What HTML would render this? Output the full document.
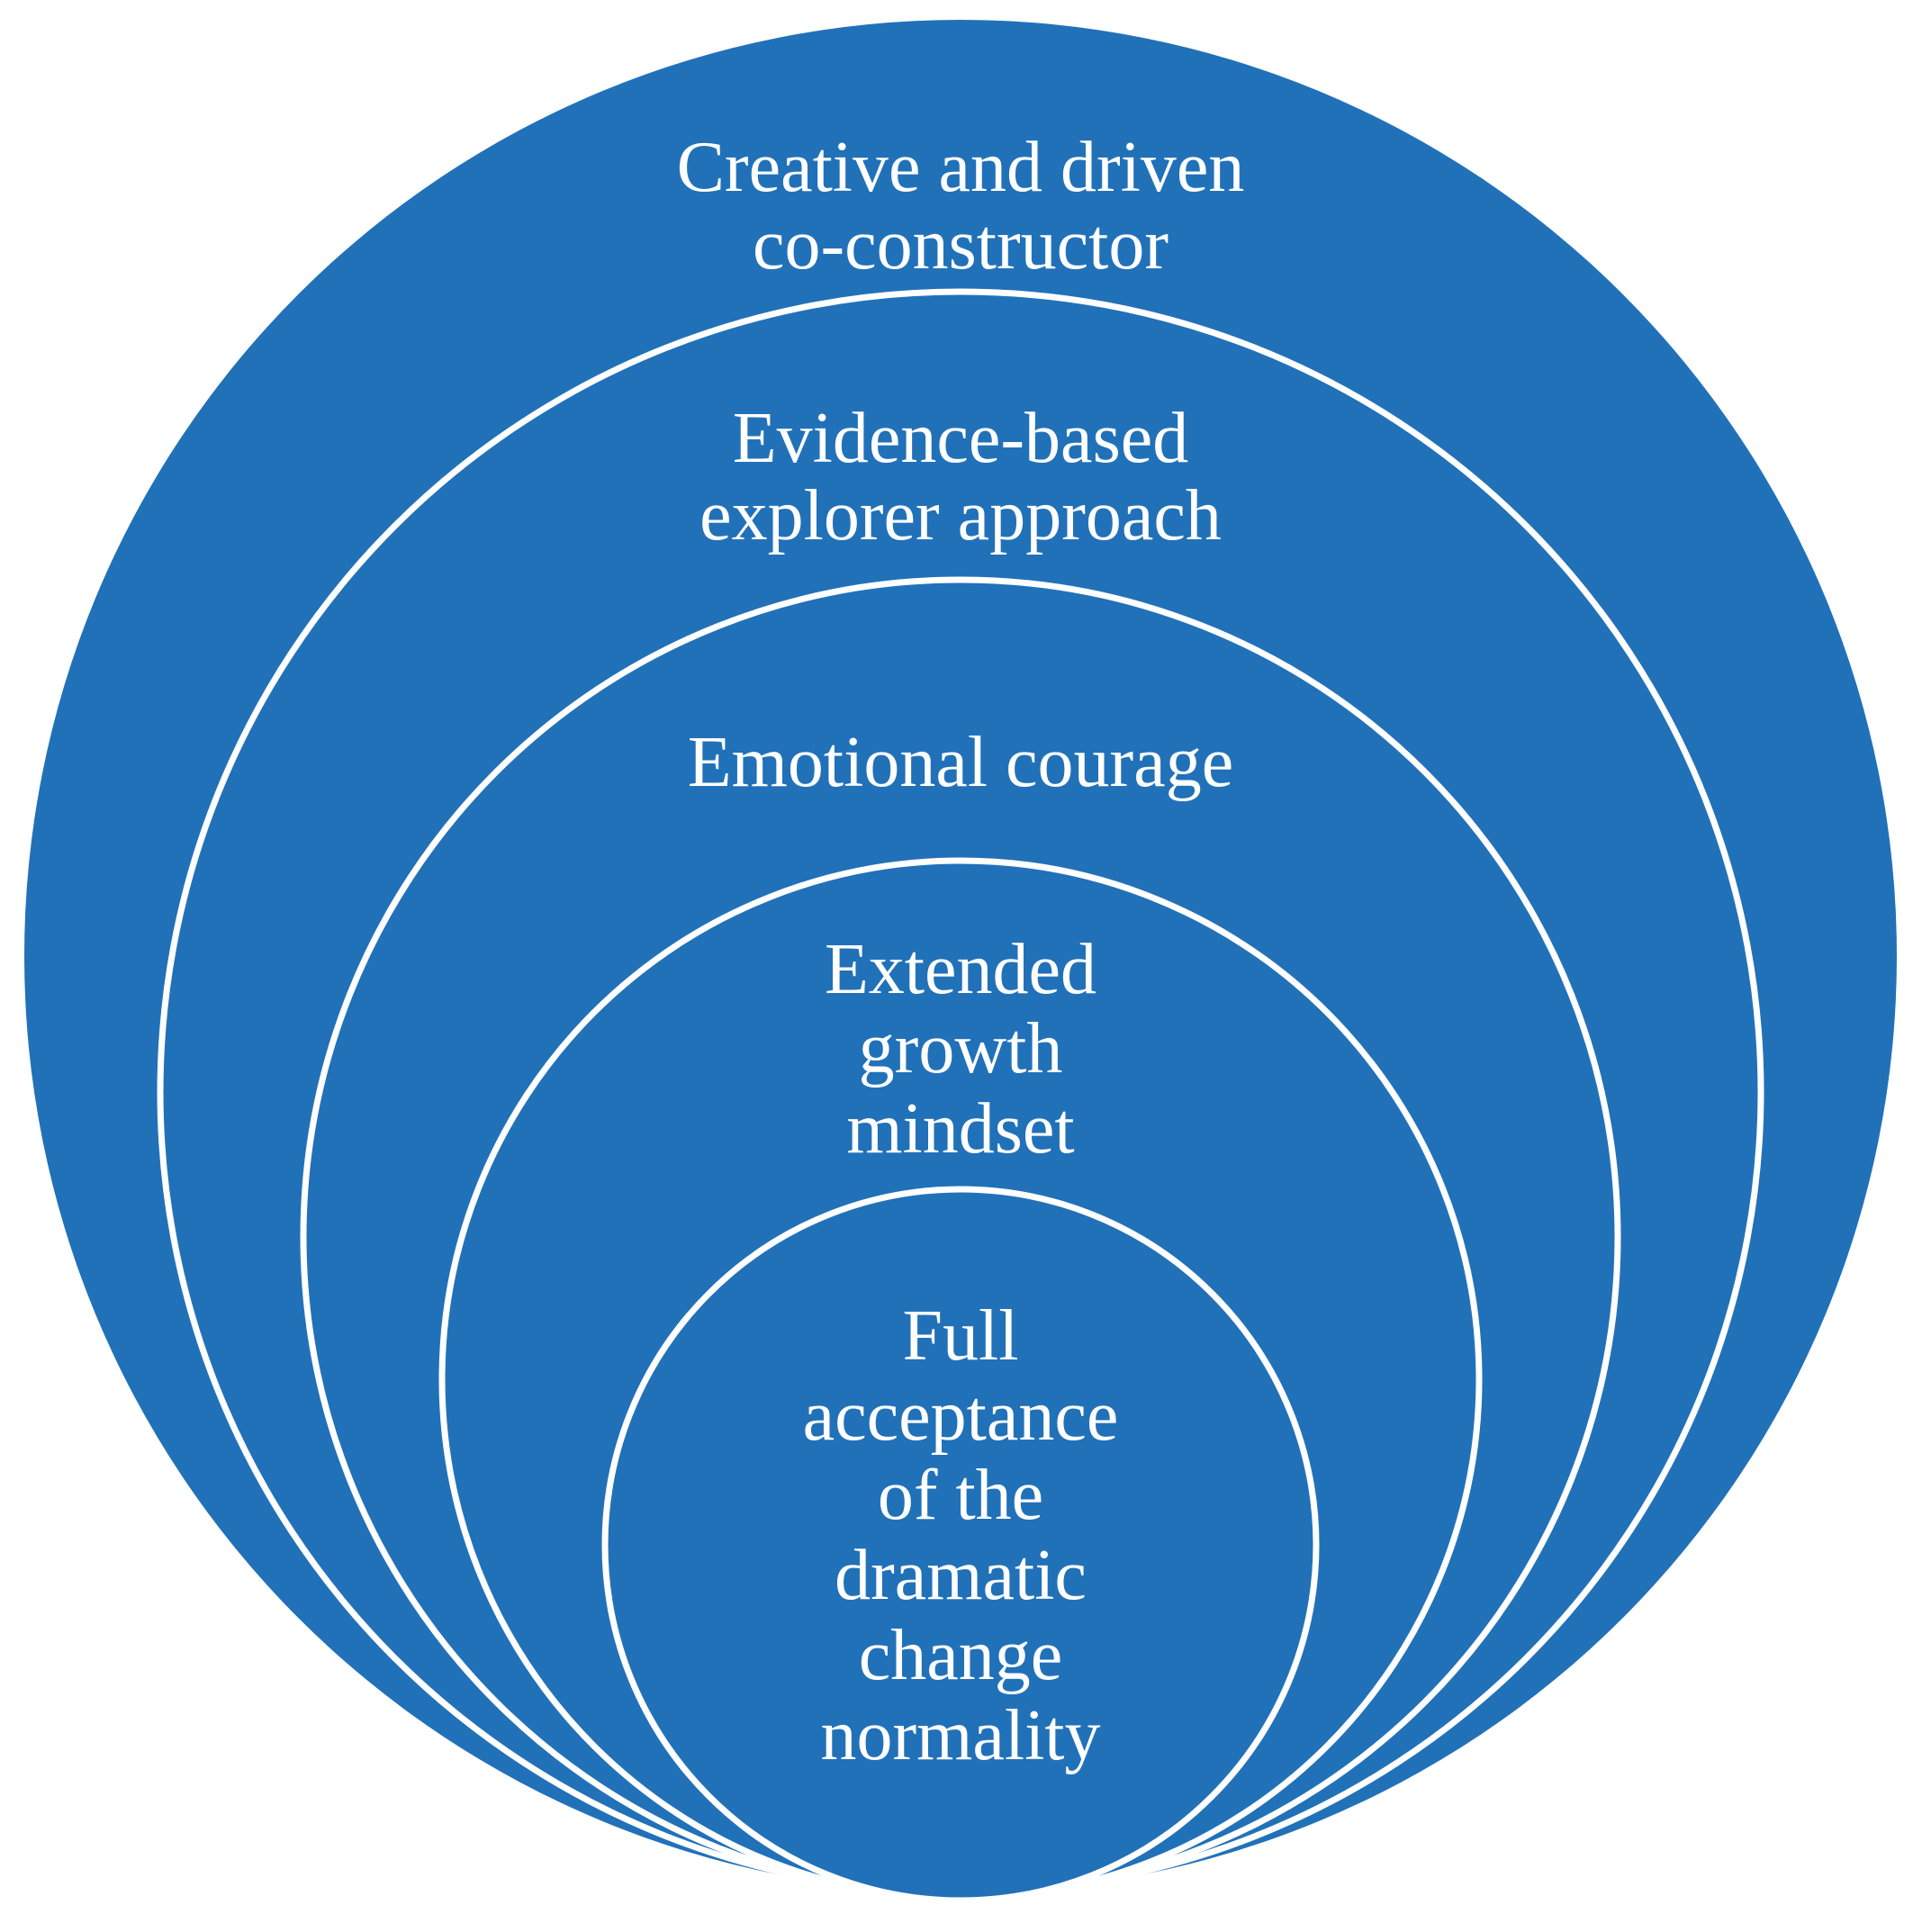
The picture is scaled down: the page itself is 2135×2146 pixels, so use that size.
<!DOCTYPE html>
<html><head><meta charset="utf-8">
<style>html,body{margin:0;padding:0;background:#fff;}svg{display:block;}</style>
</head><body>
<svg width="2135" height="2146" viewBox="0 0 2135 2146" xmlns="http://www.w3.org/2000/svg">
<g fill="#2171b9" stroke="#ffffff" stroke-width="7">
<circle cx="1067" cy="1062" r="1040" stroke="none"/>
<circle cx="1067" cy="1213" r="889"/>
<circle cx="1067" cy="1374" r="730"/>
<circle cx="1067" cy="1532" r="576"/>
<circle cx="1067" cy="1716" r="395"/>
</g>
<g fill="#ffffff" font-family="'Liberation Serif', serif" font-size="80" text-anchor="middle">
<text x="1067" y="212">Creative and driven</text>
<text x="1067" y="298">co-constructor</text>
<text x="1067" y="513">Evidence-based</text>
<text x="1067" y="599">explorer approach</text>
<text x="1067" y="873">Emotional courage</text>
<text x="1067" y="1103">Extended</text>
<text x="1067" y="1191">growth</text>
<text x="1067" y="1280">mindset</text>
<text x="1067" y="1510">Full</text>
<text x="1067" y="1599">acceptance</text>
<text x="1067" y="1687">of the</text>
<text x="1067" y="1776">dramatic</text>
<text x="1067" y="1865">change</text>
<text x="1067" y="1954">normality</text>
</g>
</svg>
</body></html>
